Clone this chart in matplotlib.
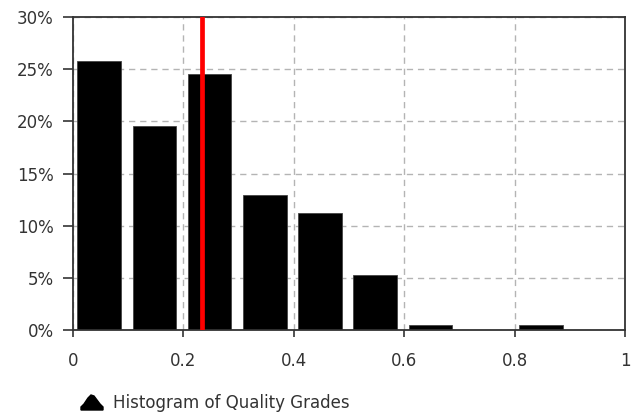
import numpy as np
import matplotlib
matplotlib.use("Agg")
import matplotlib.pyplot as plt
from matplotlib.patches import Polygon
from matplotlib.ticker import FuncFormatter

# histogram bins (left edges) and share of grades in each bin (%)
bin_left = [0.0, 0.1, 0.2, 0.3, 0.4, 0.5, 0.6, 0.7, 0.8, 0.9]
share = [25.8, 19.6, 24.5, 12.9, 11.2, 5.3, 0.5, 0.0, 0.5, 0.0]
mean_grade = 0.233
legend_label = "Histogram of Quality Grades"

fig = plt.figure(figsize=(6.36, 4.17), dpi=100)
ax = fig.add_axes([0.1148, 0.2086, 0.8679, 0.7506])

ax.bar(np.array(bin_left) + 0.008, share, width=0.079, align="edge",
       color="black", edgecolor="#444444", linewidth=0.6, zorder=2)
ax.axvline(mean_grade, color="#ff0000", linewidth=3.4, zorder=3)

ax.set_xlim(0, 1)
ax.set_ylim(0, 30)
ax.set_xticks([0, 0.2, 0.4, 0.6, 0.8, 1])
ax.set_xticklabels(["0", "0.2", "0.4", "0.6", "0.8", "1"])
ax.set_yticks(np.arange(0, 31, 5))
ax.yaxis.set_major_formatter(FuncFormatter(lambda v, p: "%d%%" % v))

ax.grid(True, color="#b4b4b4", linestyle=(0, (4.5, 3.5)), linewidth=1.0, zorder=1)
ax.set_axisbelow(True)

for s in ax.spines.values():
    s.set_color("#333333")
    s.set_linewidth(1.3)
ax.tick_params(direction="out", width=1.2, color="#333333",
               labelsize=12, labelcolor="#333333")
ax.tick_params(axis="x", length=5, pad=11)
ax.tick_params(axis="y", length=7, pad=7)

# legend: mountain-shaped icon + label below the plot
icon = [(81, 410), (81, 407), (84, 404), (86, 401), (88, 398), (91, 395),
        (94, 396), (97, 400), (100, 404), (103, 407), (103, 410)]
W, H = 636.0, 417.0
fig.add_artist(Polygon([(x / W, 1 - y / H) for x, y in icon], closed=True,
                       transform=fig.transFigure, color="black"))
fig.text(113 / W, 1 - 403 / H, legend_label, fontsize=12, color="#333333",
         va="center", ha="left")

fig.savefig("out.png", dpi=100)
